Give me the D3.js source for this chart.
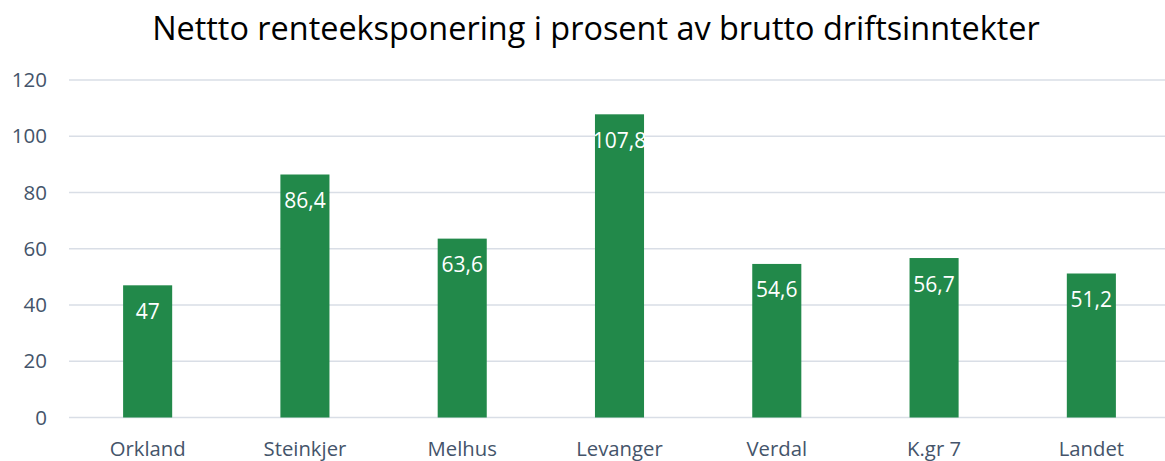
<!DOCTYPE html>
<html>
<head>
<meta charset="utf-8">
<script src="https://cdn.jsdelivr.net/npm/d3@7"></script>
<style>
  html, body { margin: 0; padding: 0; background: #fff; overflow: hidden; }
  svg { display: block; font-family: "Open Sans", sans-serif; }
</style>
</head>
<body>
<svg id="chart" width="1165" height="461"></svg>
<script>
// chart data
const title = 'Nettto renteeksponering i prosent av brutto driftsinntekter';
const categories = ['Orkland', 'Steinkjer', 'Melhus', 'Levanger', 'Verdal', 'K.gr 7', 'Landet'];
const values = [47, 86.4, 63.6, 107.8, 54.6, 56.7, 51.2];
const yTicks = [0, 20, 40, 60, 80, 100, 120];

(function barChart(){
  const svg = d3.select('#chart');
  const left = 69, right = 1170, top = 80, bottom = 417.5;
  const font = '"Open Sans", sans-serif';

  const x = d3.scaleBand()
    .domain(categories)
    .range([left, right])
    .paddingInner(0.688)
    .paddingOuter(0.344);

  const y = d3.scaleLinear()
    .domain([0, 120])
    .range([bottom, top]);

  const fmt = d => String(d).replace('.', ',');

  // fit text to a target width
  function fitWidth(sel, target) {
    const w = sel.node().getComputedTextLength();
    const fs = parseFloat(sel.attr('font-size'));
    sel.attr('font-size', fs * target / w);
  }

  // title
  const t = svg.append('text')
    .attr('x', 596)
    .attr('y', 40)
    .attr('text-anchor', 'middle')
    .attr('font-size', 27)
    .attr('fill', '#000')
    .text(title);
  fitWidth(t, 888);

  // gridlines
  svg.append('g')
    .selectAll('line')
    .data(yTicks)
    .join('line')
      .attr('x1', left)
      .attr('x2', 1165)
      .attr('y1', d => y(d))
      .attr('y2', d => y(d))
      .attr('stroke', '#d9dee6')
      .attr('stroke-width', 1.5);

  // y axis labels
  const yAxis = svg.append('g')
    .attr('transform', 'translate(47,0)')
    .call(d3.axisLeft(y).tickValues(yTicks).tickSize(0).tickPadding(0));
  yAxis.select('.domain').remove();
  yAxis.selectAll('text')
    .attr('font-family', font)
    .attr('font-size', 20.5)
    .attr('fill', '#44546a');

  // bars
  svg.append('g')
    .selectAll('rect')
    .data(values)
    .join('rect')
      .attr('x', (d, i) => x(categories[i]))
      .attr('y', d => y(d))
      .attr('width', x.bandwidth())
      .attr('height', d => bottom - y(d))
      .attr('fill', '#22894a');

  // value labels
  svg.append('g')
    .selectAll('text')
    .data(values)
    .join('text')
      .attr('x', (d, i) => x(categories[i]) + x.bandwidth() / 2)
      .attr('y', d => y(d) + 33.5)
      .attr('text-anchor', 'middle')
      .attr('font-size', 21)
      .attr('fill', '#fff')
      .text(fmt);

  // category labels
  const xAxis = svg.append('g')
    .attr('transform', `translate(0,${bottom})`)
    .call(d3.axisBottom(x).tickSize(0).tickPadding(0));
  xAxis.select('.domain').remove();
  xAxis.selectAll('text')
    .attr('dy', 0)
    .attr('y', 38)
    .attr('font-family', font)
    .attr('font-size', 20.3)
    .attr('fill', '#44546a');
})();
</script>
</body>
</html>
